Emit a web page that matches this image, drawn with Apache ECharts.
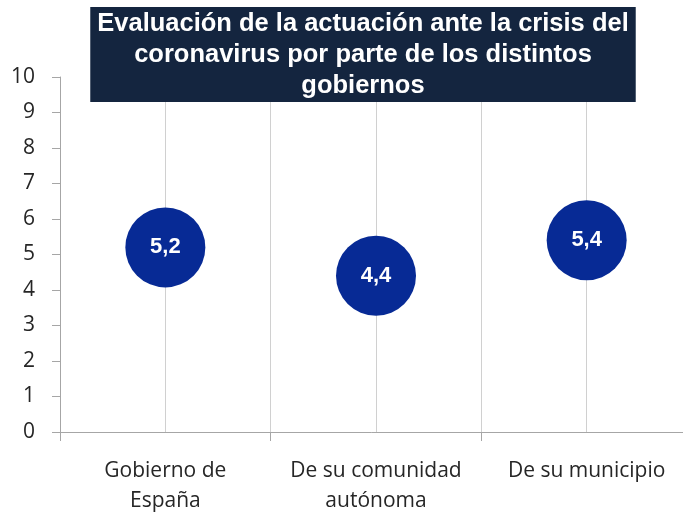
<!DOCTYPE html>
<html>
<head>
<meta charset="utf-8">
<script src="https://cdn.jsdelivr.net/npm/echarts@6/dist/echarts.min.js"></script>
<style>
html, body { margin: 0; padding: 0; background: #fff; }
#mainchart { width: 683px; height: 516px; }
</style>
</head>
<body>
<div id="mainchart"></div>
<script>
var titulo = 'Evaluación de la actuación ante la crisis del\ncoronavirus por parte de los distintos\ngobiernos';
var categorias = ['Gobierno de\nEspaña', 'De su comunidad\nautónoma', 'De su municipio'];
var valores = [5.2, 4.4, 5.4];

function drawChart() {
	var chart = echarts.init(document.getElementById('mainchart'));
	var option = {
		animation: false,
		title: {
			text: titulo,
			left: 356,
			top: 7,
			textAlign: 'center',
			backgroundColor: '#14253f',
			padding: [1, 7, 1, 7],
			textStyle: {
				color: '#fff',
				fontFamily: 'Liberation Sans',
				fontWeight: 'bold',
				fontSize: 25.5,
				lineHeight: 31
			}
		},
		grid: { left: 60, right: -9, top: 77, bottom: 84, outerBoundsMode: 'none' },
		xAxis: {
			type: 'category',
			data: categorias,
			boundaryGap: true,
			axisLine: { lineStyle: { color: '#a6a6a6', width: 1 } },
			axisTick: { show: true, length: 9, lineStyle: { color: '#a6a6a6' } },
			splitLine: { show: true, lineStyle: { color: '#d0d0d0', width: 1 } },
			axisLabel: {
				interval: 0,
				color: '#262626',
				fontFamily: 'Open Sans',
				fontSize: 21,
				lineHeight: 30,
				margin: 24
			}
		},
		yAxis: {
			type: 'value',
			min: 0,
			max: 10,
			interval: 1,
			axisLine: { show: true, lineStyle: { color: '#a6a6a6' } },
			axisTick: { show: true, length: 8, lineStyle: { color: '#a6a6a6' } },
			splitLine: { show: false },
			axisLabel: {
				color: '#262626',
				fontFamily: 'Open Sans',
				fontSize: 21,
				margin: 25
			}
		},
		series: [{
			// lineas verticales en el centro de cada categoria
			type: 'scatter',
			data: [],
			z: 1,
			markLine: {
				z: 1,
				silent: true,
				symbol: 'none',
				label: { show: false },
				lineStyle: { color: '#d0d0d0', type: 'solid', width: 1 },
				data: categorias.map(function (c) { return { xAxis: c }; })
			}
		}, {
			type: 'scatter',
			data: valores,
			symbolSize: 80,
			itemStyle: { color: '#072a95', opacity: 1 },
			label: {
				show: true,
				position: 'inside',
				color: '#fff',
				fontFamily: 'Liberation Sans',
				fontWeight: 'bold',
				fontSize: 22,
				formatter: function (p) { return String(p.value).replace('.', ','); }
			},
			z: 3
		}]
	};
	chart.setOption(option);
}
drawChart();
</script>
</body>
</html>
